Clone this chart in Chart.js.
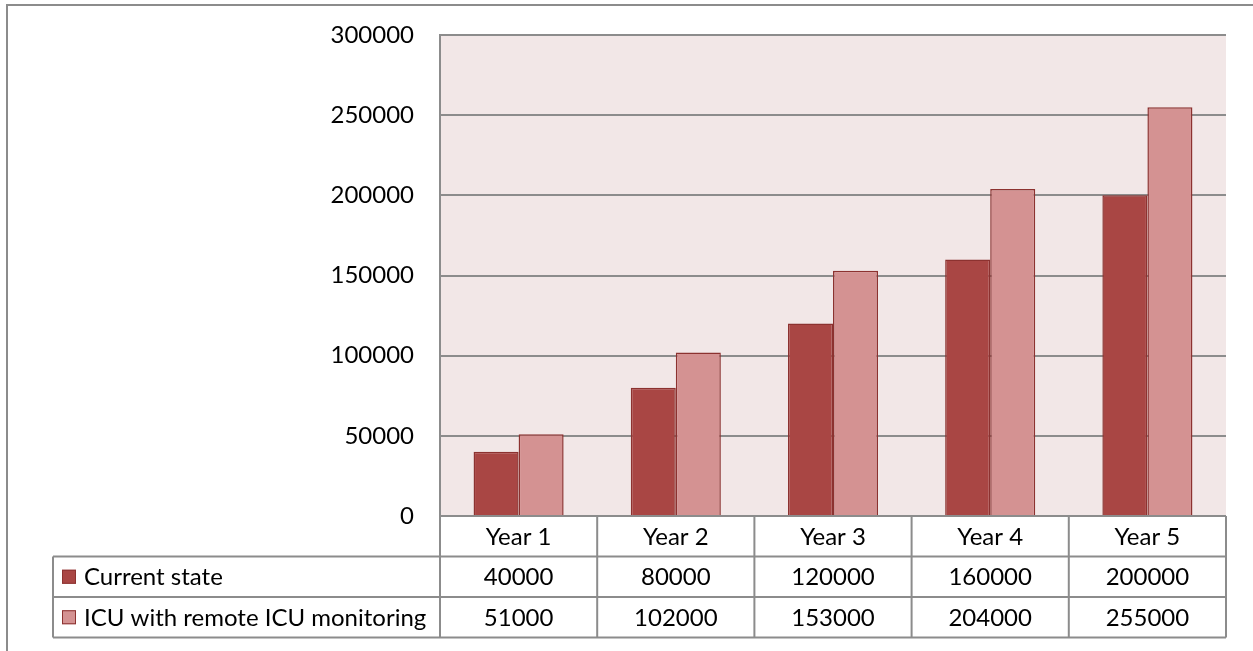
<!DOCTYPE html>
<html>
<head>
<meta charset="utf-8">
<script src="https://cdn.jsdelivr.net/npm/chart.js@4"></script>
<style>
  html, body { margin: 0; padding: 0; background: #fff; }
  #wrap { width: 1253px; height: 651px; position: relative; }
</style>
</head>
<body>
<div id="wrap"><canvas id="chart" width="1253" height="651"></canvas></div>
<script>
const categories   = ['Year 1', 'Year 2', 'Year 3', 'Year 4', 'Year 5'];
const currentState = [40000, 80000, 120000, 160000, 200000];
const remoteIcu    = [51000, 102000, 153000, 204000, 255000];
const seriesNames  = ['Current state', 'ICU with remote ICU monitoring'];

const DARK  = '#A94644';
const LIGHT = '#D49292';
const EDGE  = '#8C3230';
const LINE  = '#8C8C8C';
const FONT  = 'Lato, "Open Sans", sans-serif';
const SIZE  = 24;

const plotBg = {
    id: 'plotBg',
    beforeDraw(chart) {
        const { ctx, chartArea: a } = chart;
        ctx.save();
        ctx.fillStyle = '#F2E7E7';
        ctx.fillRect(a.left, a.top, a.right - a.left, a.bottom - a.top);
        ctx.restore();
    }
};

const dataTable = {
    id: 'dataTable',
    afterDraw(chart) {
        const { ctx, chartArea: a } = chart;
        const x = chart.scales.x;
        const half = (x.getPixelForValue(1) - x.getPixelForValue(0)) / 2;
        const rowH = 40.5;
        const tableLeft = 53;
        const top = a.bottom;

        ctx.save();
        ctx.strokeStyle = LINE;
        ctx.lineWidth = 2;

        // outer frame (cropped chart border)
        ctx.beginPath();
        ctx.moveTo(7, 651);
        ctx.lineTo(7, 5);
        ctx.lineTo(1253, 5);
        ctx.stroke();

        // horizontal lines
        ctx.beginPath();
        ctx.moveTo(a.left, top);
        ctx.lineTo(a.right, top);
        for (let r = 1; r <= 3; r++) {
            ctx.moveTo(tableLeft, top + rowH * r);
            ctx.lineTo(a.right, top + rowH * r);
        }
        // vertical lines
        for (let i = 0; i <= categories.length; i++) {
            const px = x.getPixelForValue(0) - half + i * half * 2;
            ctx.moveTo(px, top);
            ctx.lineTo(px, top + rowH * 3);
        }
        ctx.moveTo(tableLeft, top + rowH);
        ctx.lineTo(tableLeft, top + rowH * 3);
        ctx.stroke();

        ctx.fillStyle = '#000';
        ctx.font = SIZE + 'px ' + FONT;
        ctx.textBaseline = 'middle';
        ctx.textAlign = 'center';
        categories.forEach((c, i) => {
            const cx = x.getPixelForValue(i);
            ctx.fillText(c, cx, top + rowH * 0.5 + 1);
            ctx.fillText(String(currentState[i]), cx, top + rowH * 1.5 + 1);
            ctx.fillText(String(remoteIcu[i]), cx, top + rowH * 2.5 + 1);
        });

        // legend keys and series names
        [DARK, LIGHT].forEach((col, r) => {
            const cy = top + rowH * (1.5 + r);
            ctx.fillStyle = col;
            ctx.fillRect(62, cy - 7, 14, 14);
            ctx.strokeStyle = EDGE;
            ctx.lineWidth = 1;
            ctx.strokeRect(62.5, cy - 6.5, 13, 13);
            ctx.fillStyle = '#000';
            ctx.textAlign = 'left';
            ctx.fillText(seriesNames[r], 84, cy + 1);
        });
        ctx.restore();
    }
};

new Chart(document.getElementById('chart'), {
    type: 'bar',
    data: {
        labels: categories,
        datasets: [
            { label: seriesNames[0], data: currentState, backgroundColor: DARK,  borderColor: EDGE, borderWidth: 1.5 },
            { label: seriesNames[1], data: remoteIcu,    backgroundColor: LIGHT, borderColor: EDGE, borderWidth: 1.5 },
        ],
    },
    options: {
        responsive: false,
        animation: false,
        devicePixelRatio: 1,
        layout: { padding: { left: 0, right: 27, top: 35, bottom: 135 } },
        datasets: { bar: { categoryPercentage: 0.573, barPercentage: 1.0 } },
        plugins: { legend: { display: false }, tooltip: { enabled: false } },
        scales: {
            x: { display: false },
            y: {
                min: 0,
                max: 300000,
                afterFit: s => { s.width = 440; s.paddingTop = 0; s.paddingBottom = 0; },
                ticks: {
                    stepSize: 50000, color: '#000', padding: 26,
                    font: { family: FONT, size: SIZE },
                    callback: v => String(v),
                },
                grid: { color: LINE, lineWidth: 2, drawTicks: false },
                border: { display: true, color: LINE, width: 2 },
            },
        },
    },
    plugins: [plotBg, dataTable],
});
</script>
</body>
</html>
